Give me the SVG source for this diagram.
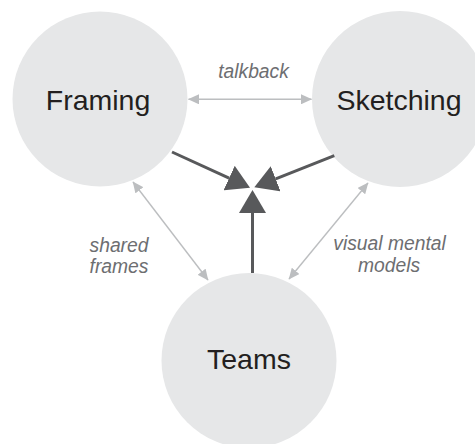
<svg xmlns="http://www.w3.org/2000/svg" width="475" height="444" viewBox="0 0 475 444">
<style>
.node{fill:#e6e7e8;}
.title{font-family:"Liberation Sans",Arial,sans-serif;font-size:28.5px;fill:#231f20;text-anchor:middle;}
.lbl{font-family:"Liberation Sans",Arial,sans-serif;font-style:italic;font-size:19.3px;fill:#6d6e71;text-anchor:middle;}
.thin{stroke:#bcbec0;stroke-width:1.4;fill:none;marker-start:url(#ga);marker-end:url(#ga);}
.thick{stroke:#58595b;stroke-width:3;fill:none;marker-end:url(#da);}
</style>
<defs>
<marker id="ga" markerUnits="userSpaceOnUse" markerWidth="12" markerHeight="10" refX="10.5" refY="5" orient="auto-start-reverse">
<path d="M0,0 L11,5 L0,10 z" fill="#bcbec0"/>
</marker>
<marker id="da" markerUnits="userSpaceOnUse" markerWidth="24" markerHeight="27" refX="0" refY="13.5" orient="auto">
<path d="M0,0 L23,13.5 L0,27 z" fill="#58595b"/>
</marker>
</defs>
<rect width="475" height="444" fill="#ffffff"/>
<g id="framing">
<circle class="node" cx="100" cy="99" r="87.5"/>
<text class="title" x="98" y="110">Framing</text>
</g>
<g id="sketching">
<circle class="node" cx="400" cy="99" r="88"/>
<text class="title" x="399" y="110">Sketching</text>
</g>
<g id="teams">
<circle class="node" cx="249" cy="360.5" r="87.5"/>
<text class="title" x="249" y="369">Teams</text>
</g>
<g id="connectors">
<line class="thin" x1="188.5" y1="99.3" x2="311.5" y2="99.3"/>
<line class="thin" x1="133" y1="182" x2="208" y2="280"/>
<line class="thin" x1="368" y1="183" x2="289" y2="279"/>
<line class="thick" x1="172" y1="152" x2="229.1" y2="178.1"/>
<line class="thick" x1="334.3" y1="155.7" x2="275.7" y2="178.9"/>
<line class="thick" x1="252.5" y1="273" x2="252.5" y2="213"/>
<text class="lbl" x="253.5" y="77.5">talkback</text>
<text class="lbl" x="119" y="251.5">shared</text>
<text class="lbl" x="119" y="273.3">frames</text>
<text class="lbl" x="389.5" y="250">visual mental</text>
<text class="lbl" x="389" y="271.7">models</text>
</g>
</svg>
